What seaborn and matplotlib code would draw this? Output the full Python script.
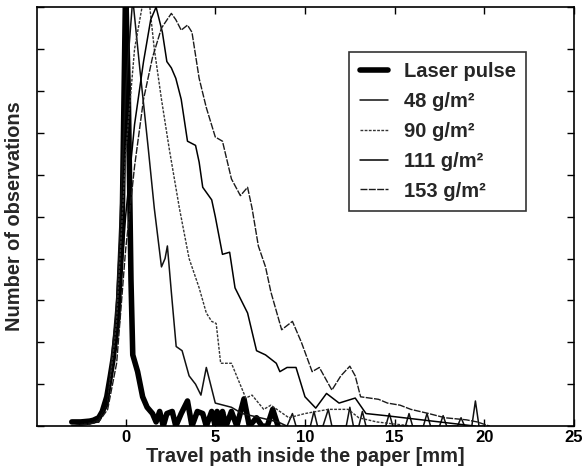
import matplotlib
matplotlib.use("Agg")
import matplotlib.pyplot as plt
import seaborn as sns
import pandas as pd
import numpy as np

# ---- data ----
laser_x = [-3.0, -2.5, -2.0, -1.8, -1.5, -1.3, -1.05, -0.85, -0.7, -0.45, -0.2, 0.0, 0.15, 0.3, 0.4,
           0.67, 0.95, 1.2, 1.5, 1.7, 1.9, 2.1, 2.3, 2.6, 2.8, 3.1, 3.45, 3.7, 4.0, 4.3, 4.5,
           4.8, 5.0, 5.1, 5.3, 5.4, 5.6, 5.9, 6.2, 6.6, 6.9, 7.3, 7.6, 7.9, 8.2, 8.5]
laser_y = [0.01, 0.01, 0.012, 0.014, 0.02, 0.035, 0.07, 0.12, 0.16, 0.25, 0.45, 1.05, 0.8, 0.35, 0.17,
           0.13, 0.07, 0.045, 0.03, 0.01, 0.035, 0.0, 0.03, 0.035, 0.0, 0.03, 0.06, 0.0, 0.035, 0.03, 0.0,
           0.035, 0.0, 0.035, 0.0, 0.035, 0.0, 0.035, 0.0, 0.065, 0.0, 0.02, 0.0, 0.0, 0.04, 0.0]

g48_x = [-3.0, -2.0, -1.5, -1.0, -0.5, 0.0, 0.4, 0.8, 1.0, 1.27, 1.6, 2.0, 2.2, 2.33, 2.55, 2.82, 3.15,
         3.54, 3.9, 4.2, 4.5, 5.0, 5.9, 6.5, 7.5, 8.5, 9.0, 9.3, 9.5, 10.3, 10.5, 10.7, 11.0, 11.3, 11.5,
         12.3, 12.5, 12.7, 13.0, 13.2, 13.4, 14.5, 14.7, 14.9, 15.6, 15.8, 16.0, 16.6, 16.8, 17.0, 17.5,
         17.7, 17.9, 18.5, 18.7, 18.9, 19.3, 19.5, 19.7, 20.0]
g48_y = [0.0, 0.005, 0.015, 0.05, 0.3, 0.8, 1.02, 0.85, 0.77, 0.66, 0.52, 0.38, 0.4, 0.43, 0.32, 0.19, 0.18,
         0.12, 0.1, 0.074, 0.14, 0.055, 0.045, 0.03, 0.02, 0.01, 0.0, 0.03, 0.0, 0.0, 0.035, 0.0, 0.0, 0.04, 0.0,
         0.0, 0.045, 0.0, 0.0, 0.035, 0.0, 0.0, 0.03, 0.0, 0.0, 0.03, 0.0, 0.0, 0.03, 0.0, 0.0,
         0.025, 0.0, 0.0, 0.02, 0.0, 0.0, 0.06, 0.0, 0.0]

g90_x = [-3.0, -1.5, -1.0, -0.5, 0.0, 0.5, 1.0, 1.3, 1.6, 2.0, 2.44, 3.0, 3.54, 4.1, 4.5, 4.8, 5.05, 5.3,
         5.9, 6.7, 7.05, 7.7, 8.1, 9.1, 10.0, 11.3, 12.4, 13.0, 14.0, 15.0, 16.0]
g90_y = [0.0, 0.01, 0.05, 0.25, 0.65, 0.9, 1.02, 1.02, 0.9, 0.78, 0.66, 0.52, 0.40, 0.33, 0.27, 0.25, 0.245, 0.15,
         0.15, 0.067, 0.074, 0.04, 0.05, 0.02, 0.03, 0.04, 0.04, 0.02, 0.01, 0.005, 0.0]

g111_x = [-3.0, -1.5, -1.0, -0.5, 0.0, 0.5, 1.0, 1.4, 1.7, 2.05, 2.3, 2.55, 2.8, 3.1, 3.45, 3.9, 4.1, 4.3,
          4.8, 5.0, 5.4, 5.8, 6.1, 6.8, 7.3, 7.8, 8.4, 8.6, 9.0, 9.5, 10.0, 10.6, 11.2, 11.9, 12.8, 13.4,
          14.5, 15.5, 16.5, 17.5, 18.5, 19.5]
g111_y = [0.0, 0.01, 0.05, 0.2, 0.5, 0.72, 0.87, 0.97, 1.0, 0.94, 0.87, 0.855, 0.83, 0.78, 0.68, 0.67, 0.63, 0.57,
          0.54, 0.5, 0.41, 0.415, 0.33, 0.27, 0.18, 0.17, 0.15, 0.13, 0.14, 0.14, 0.07, 0.043, 0.078, 0.055, 0.067, 0.03,
          0.025, 0.02, 0.015, 0.01, 0.005, 0.0]

g153_x = [-3.0, -2.0, -1.5, -1.0, -0.5, 0.0, 0.5, 1.0, 1.5, 2.0, 2.55, 2.8, 3.1, 3.45, 3.7, 4.1, 4.5, 5.0,
          5.4, 5.9, 6.4, 6.8, 7.05, 7.4, 7.8, 8.1, 8.7, 9.3, 9.8, 10.4, 10.8, 11.5, 12.0, 12.5, 12.8, 13.1,
          14.1, 14.6, 15.3, 15.9, 16.9, 17.8, 19.0, 19.6, 20.3]
g153_y = [0.0, 0.005, 0.01, 0.04, 0.15, 0.42, 0.62, 0.78, 0.88, 0.95, 0.985, 0.97, 0.945, 0.957, 0.94, 0.83, 0.76, 0.69,
          0.68, 0.59, 0.55, 0.57, 0.52, 0.43, 0.38, 0.32, 0.23, 0.25, 0.2, 0.13, 0.14, 0.086, 0.12, 0.143, 0.12, 0.07,
          0.064, 0.055, 0.05, 0.04, 0.03, 0.02, 0.015, 0.01, 0.0]

series_names = ["Laser pulse", "48 g/m\u00b2", "90 g/m\u00b2", "111 g/m\u00b2", "153 g/m\u00b2"]
x_ticks = [0, 5, 10, 15, 20, 25]

frames = []
for name, xs, ys in zip(series_names,
                        [laser_x, g48_x, g90_x, g111_x, g153_x],
                        [laser_y, g48_y, g90_y, g111_y, g153_y]):
    frames.append(pd.DataFrame({"x": xs, "y": ys, "series": name}))
df = pd.concat(frames, ignore_index=True)

sns.set_theme(style="ticks")
plt.rcParams["font.family"] = ["Liberation Sans", "DejaVu Sans"]
plt.rcParams["font.weight"] = "bold"

fig = plt.figure(figsize=(5.84, 4.74), dpi=100)
ax = fig.add_axes([0.063, 0.101, 0.92, 0.884])

styles = {
    series_names[0]: dict(lw=4.0, ls="-", color="black"),
    series_names[1]: dict(lw=1.1, ls="-", color="#111111"),
    series_names[2]: dict(lw=1.0, ls=(0, (2, 1)), color="#333333"),
    series_names[3]: dict(lw=1.1, ls="-", color="#000000"),
    series_names[4]: dict(lw=1.0, ls=(0, (5, 1)), color="#1a1a1a"),
}
for name in series_names:
    sub = df[df["series"] == name]
    st = styles[name]
    sns.lineplot(data=sub, x="x", y="y", ax=ax, estimator=None, sort=False,
                 color=st["color"], linewidth=st["lw"], linestyle=st["ls"], label=name)

ax.set_xlim(-4.95, 25)
ax.set_ylim(0, 1)
ax.set_xticks(x_ticks)
ax.set_xticklabels([str(t) for t in x_ticks], fontsize=12, fontweight="bold")
ax.set_yticks(np.arange(0, 1.01, 0.1))
ax.set_yticklabels([])
ax.tick_params(direction="in", length=5, width=1, top=True, right=True, colors="black", pad=3)
for s in ax.spines.values():
    s.set_color("black")
    s.set_linewidth(1.2)
    s.set_visible(True)

ax.set_xlabel("Travel path inside the paper [mm]", fontsize=14.4, fontweight="bold", labelpad=1)
ax.set_ylabel("Number of observations", fontsize=14.4, fontweight="bold", labelpad=6)

leg = ax.legend(loc="upper left", bbox_to_anchor=(0.582, 0.893), frameon=True, fancybox=False,
                edgecolor="black", fontsize=14.5, handlelength=1.4, handletextpad=0.8,
                labelspacing=0.54, borderpad=0.5, borderaxespad=0)
leg.get_frame().set_linewidth(1.2)
for t in leg.get_texts():
    t.set_fontweight("bold")

fig.savefig("out.png", dpi=100)
